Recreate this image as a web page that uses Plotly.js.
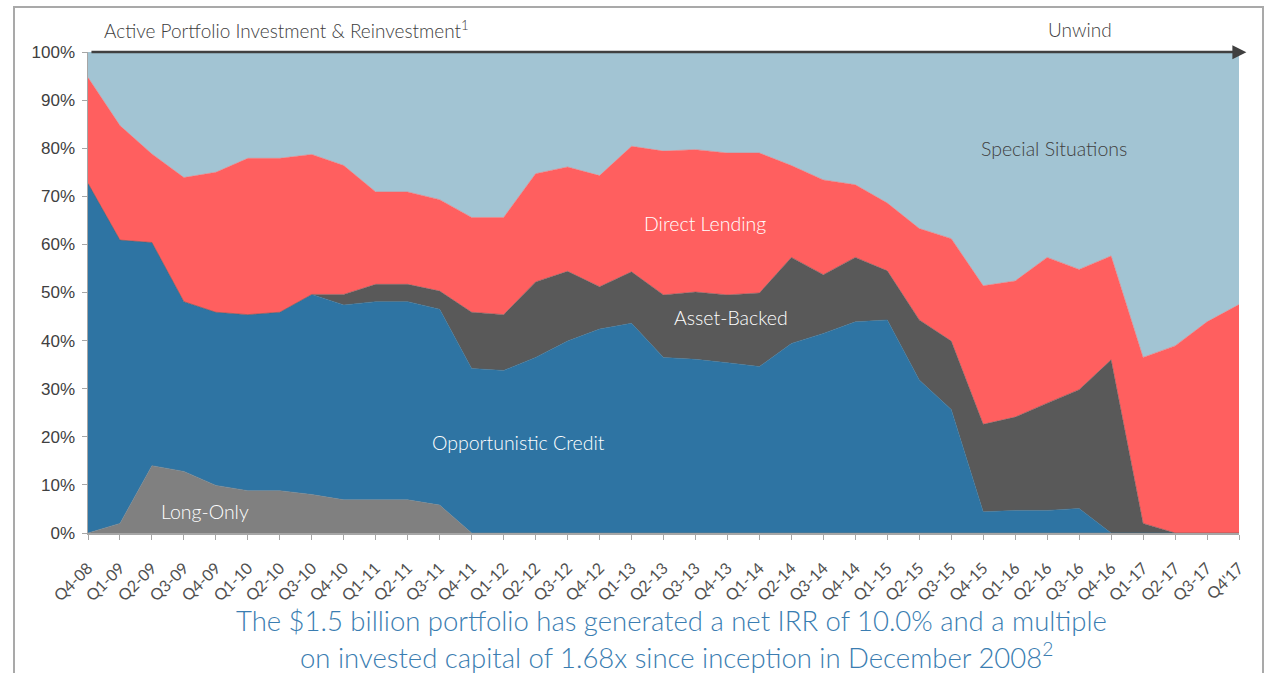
<!DOCTYPE html>
<html>
<head>
<meta charset="utf-8">
<script src="https://cdn.plot.ly/plotly-3.0.1.min.js"></script>
<style>
  html, body { margin: 0; padding: 0; background: #ffffff; overflow: hidden; }
  #wrap { position: relative; width: 1268px; height: 673px; }
  #frame { position: absolute; left: 13px; top: 6px; width: 1251px; height: 720px; border: 2px solid #a9a9a9; box-sizing: border-box; pointer-events: none; }
  #chart { position: absolute; left: 0; top: 0; width: 1268px; height: 673px; }
</style>
</head>
<body>
<div id="wrap">
  <div id="chart"></div>
  <div id="frame"></div>
</div>
<script>
const quarters = ["Q4-08","Q1-09","Q2-09","Q3-09","Q4-09","Q1-10","Q2-10","Q3-10","Q4-10","Q1-11","Q2-11","Q3-11","Q4-11","Q1-12","Q2-12","Q3-12","Q4-12","Q1-13","Q2-13","Q3-13","Q4-13","Q1-14","Q2-14","Q3-14","Q4-14","Q1-15","Q2-15","Q3-15","Q4-15","Q1-16","Q2-16","Q3-16","Q4-16","Q1-17","Q2-17","Q3-17","Q4'17"];

const longOnly = [0,2.0,14.0,12.8,9.9,8.8,8.8,8.0,6.9,6.9,6.9,5.8,0,0,0,0,0,0,0,0,0,0,0,0,0,0,0,0,0,0,0,0,0,0,0,0,0];
const opportunisticCredit = [72.7,58.9,46.4,35.3,36.0,36.6,37.1,41.6,40.5,41.2,41.2,40.7,34.2,33.8,36.5,39.9,42.4,43.6,36.5,36.1,35.4,34.6,39.4,41.5,43.9,44.3,31.8,25.7,4.4,4.7,4.7,5.1,0,0,0,0,0];
const assetBacked = [0,0,0,0,0,0,0,0,2.2,3.6,3.6,3.8,11.7,11.6,15.7,14.5,8.8,10.7,13.0,14.0,14.1,15.3,17.9,12.2,13.4,10.2,12.5,14.2,18.2,19.4,22.3,24.7,36.0,2.0,0,0,0];
const directLending = [22.0,23.8,18.4,25.8,29.1,32.5,32.0,29.1,26.8,19.2,19.2,19.0,19.7,20.2,22.5,21.7,23.1,26.1,29.9,29.6,29.5,29.1,19.1,19.7,15.1,14.1,19.0,21.3,28.8,28.3,30.3,25.0,21.6,34.5,38.9,43.9,47.5];
const specialSituations = [5.3,15.3,21.2,26.1,25.0,22.1,22.1,21.3,23.6,29.1,29.1,30.7,34.4,34.4,25.3,23.9,25.7,19.6,20.6,20.3,21.0,21.0,23.6,26.6,27.6,31.4,36.7,38.8,48.6,47.6,42.7,45.2,42.4,63.5,61.1,56.1,52.5];

const yTickVals = [0,10,20,30,40,50,60,70,80,90,100];
const yTickText = ["0%","10%","20%","30%","40%","50%","60%","70%","80%","90%","100%"];

const seriesNames = ["Long-Only","Opportunistic Credit","Asset-Backed","Direct Lending","Special Situations"];
const seriesValues = [longOnly, opportunisticCredit, assetBacked, directLending, specialSituations];
const seriesColors = ["#808080","#2E74A3","#595959","#FF5F5F","#A2C4D3"];

const traces = seriesNames.map((name, k) => ({
  type: "scatter",
  mode: "lines",
  name: name,
  x: quarters,
  y: seriesValues[k],
  stackgroup: "one",
  line: { width: 0.5, color: seriesColors[k], shape: "linear" },
  fillcolor: seriesColors[k],
  hoverinfo: "x+y+name"
}));

const labelFont = "Lato, 'Open Sans', sans-serif";
const xIdx = (px) => (px - 87.8) / 31.97;
const paperX = (px) => (px - 88) / 1150.6;
const paperY = (py) => (533.5 - py) / 481.8;

const layout = {
  width: 1268,
  height: 673,
  margin: { l: 88, r: 29.4, t: 51.7, b: 139.5 },
  paper_bgcolor: "rgba(0,0,0,0)",
  plot_bgcolor: "#ffffff",
  showlegend: false,
  xaxis: {
    type: "category",
    range: [0, 36],
    showgrid: false,
    zeroline: false,
    showline: true,
    linecolor: "#a6a6a6",
    linewidth: 1.5,
    ticks: "outside",
    ticklen: 5,
    tickcolor: "#a6a6a6",
    tickangle: -45,
    ticklabelstandoff: 13,
    tickfont: { family: labelFont, size: 16, weight: 400, color: "#505050" },
    automargin: false
  },
  yaxis: {
    range: [0, 100],
    tickvals: yTickVals,
    ticktext: yTickText,
    showgrid: false,
    zeroline: false,
    showline: true,
    linecolor: "#a6a6a6",
    linewidth: 1.5,
    ticks: "outside",
    ticklen: 5,
    tickcolor: "#a6a6a6",
    ticklabelstandoff: 3,
    tickfont: { family: "'Liberation Sans Narrow', 'Arial Narrow', 'Liberation Sans', Arial, sans-serif", size: 17, color: "#404040" },
    automargin: false
  },
  shapes: [
    { type: "line", xref: "paper", yref: "paper", x0: 0.003, x1: paperX(1236), y0: 1, y1: 1,
      line: { color: "#404040", width: 2.6 } },
    { type: "path", xref: "paper", yref: "paper",
      path: "M " + paperX(1232) + " " + paperY(45) + " L " + paperX(1246) + " " + paperY(52) + " L " + paperX(1232) + " " + paperY(59) + " Z",
      fillcolor: "#404040", line: { width: 0 } }
  ],
  annotations: [
    { x: paperX(102), y: paperY(29), xref: "paper", yref: "paper", xanchor: "left", yanchor: "middle", showarrow: false,
      text: "Active Portfolio Investment & Reinvestment<sup>1</sup>", font: { family: labelFont, size: 19, weight: 300, color: "#404040" } },
    { x: paperX(1080), y: paperY(29), xref: "paper", yref: "paper", xanchor: "center", yanchor: "middle", showarrow: false,
      text: "Unwind", font: { family: labelFont, size: 19, weight: 300, color: "#404040" } },
    { x: xIdx(1054), y: 79.9, xref: "x", yref: "y", showarrow: false,
      text: "Special Situations", font: { family: labelFont, size: 19.5, weight: 300, color: "#404040" } },
    { x: xIdx(705), y: 64.4, xref: "x", yref: "y", showarrow: false,
      text: "Direct Lending", font: { family: labelFont, size: 19.5, weight: 300, color: "#ffffff" } },
    { x: xIdx(731), y: 44.9, xref: "x", yref: "y", showarrow: false,
      text: "Asset-Backed", font: { family: labelFont, size: 19.5, weight: 300, color: "#ffffff" } },
    { x: xIdx(518), y: 18.8, xref: "x", yref: "y", showarrow: false,
      text: "Opportunistic Credit", font: { family: labelFont, size: 19.5, weight: 300, color: "#ffffff" } },
    { x: xIdx(205), y: 4.5, xref: "x", yref: "y", showarrow: false,
      text: "Long-Only", font: { family: labelFont, size: 19.5, weight: 300, color: "#ffffff" } },
    { x: paperX(671), y: paperY(621), xref: "paper", yref: "paper", showarrow: false,
      xanchor: "center", yanchor: "middle",
      text: "The $1.5 billion portfolio has generated a net IRR of 10.0% and a multiple",
      font: { family: labelFont, size: 27.5, weight: 300, color: "#3A7DB1" } },
    { x: paperX(676), y: paperY(656), xref: "paper", yref: "paper", showarrow: false,
      xanchor: "center", yanchor: "middle",
      text: "on invested capital of 1.68x since inception in December 2008<sup>2</sup>",
      font: { family: labelFont, size: 27.5, weight: 300, color: "#3A7DB1" } }
  ]
};

Plotly.newPlot("chart", traces, layout, { displayModeBar: false, staticPlot: true });
</script>
</body>
</html>
